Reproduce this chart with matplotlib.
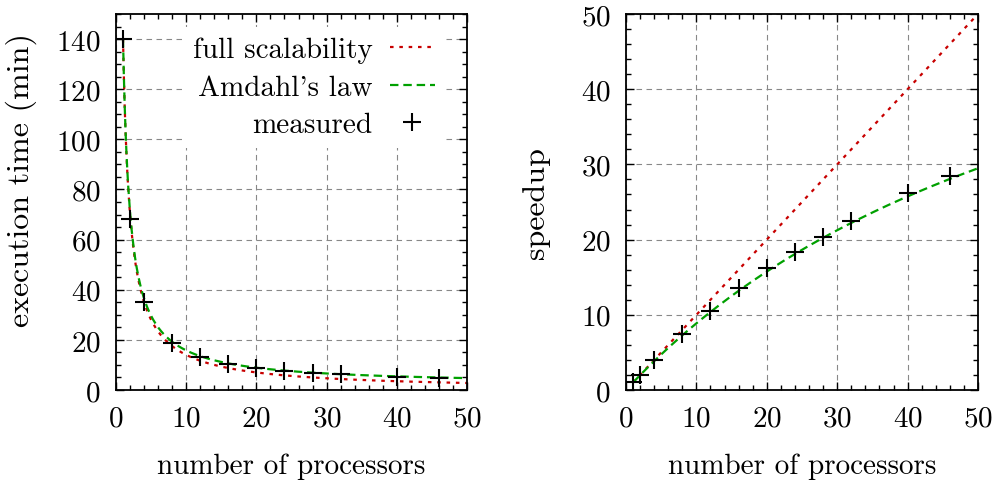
import numpy as np
import matplotlib
matplotlib.use("Agg")
import matplotlib.pyplot as plt
from matplotlib.ticker import MultipleLocator

plt.rcParams["font.family"] = "cmr10"
plt.rcParams["mathtext.fontset"] = "cm"
plt.rcParams["axes.formatter.use_mathtext"] = True

# Measured runs
processors = [1, 2, 4, 8, 12, 16, 20, 24, 28, 32, 40, 46]
exec_time = [140, 68.3, 35, 18.6, 13.1, 10.3, 8.7, 7.6, 6.8, 6.2, 5.35, 4.9]
speedup = [1, 2.0, 4.0, 7.5, 10.5, 13.6, 16.2, 18.3, 20.4, 22.5, 26.2, 28.4]

# Model parameters
serial_time = 140.0        # minutes on one processor
parallel_fraction = 0.9858  # Amdahl's law fit

n = np.linspace(1, 50, 400)
t_full = serial_time / n
t_amdahl = serial_time * ((1 - parallel_fraction) + parallel_fraction / n)
s_full = n
s_amdahl = 1.0 / ((1 - parallel_fraction) + parallel_fraction / n)

RED = "#c80000"
GREEN = "#00a000"
FS = 21
YFS = 23

fig = plt.figure(figsize=(9.98, 4.81), dpi=100)
W, H = 998, 481
ax1 = fig.add_axes([116 / W, 1 - 391 / H, 351 / W, 376 / H])
ax2 = fig.add_axes([626 / W, 1 - 391 / H, 352 / W, 376 / H])

red_style = dict(color=RED, lw=1.6, linestyle=(0, (1.6, 2.6)), dash_capstyle="butt")
green_style = dict(color=GREEN, lw=1.6, linestyle=(0, (3.8, 2.2)))
mark_style = dict(linestyle="none", marker="+", color="black", markersize=13, mew=1.5)

ax1.plot(n, t_full, label="full scalability", **red_style)
ax1.plot(n, t_amdahl, label="Amdahl's law", **green_style)
ax1.plot(processors, exec_time, label="measured", **mark_style)

ax2.plot(n, s_full, **red_style)
ax2.plot(n, s_amdahl, **green_style)
ax2.plot(processors, speedup, **mark_style)

ax1.set_xlim(0, 50)
ax1.set_ylim(0, 150)
ax1.xaxis.set_major_locator(MultipleLocator(10))
ax1.xaxis.set_minor_locator(MultipleLocator(2))
ax1.yaxis.set_major_locator(MultipleLocator(20))
ax1.yaxis.set_minor_locator(MultipleLocator(5))
ax1.set_yticks([0, 20, 40, 60, 80, 100, 120, 140])

ax2.set_xlim(0, 50)
ax2.set_ylim(0, 50)
ax2.xaxis.set_major_locator(MultipleLocator(10))
ax2.xaxis.set_minor_locator(MultipleLocator(2))
ax2.yaxis.set_major_locator(MultipleLocator(10))
ax2.yaxis.set_minor_locator(MultipleLocator(2))

for ax in (ax1, ax2):
    for s in ax.spines.values():
        s.set_linewidth(1.3)
    ax.tick_params(which="both", direction="in", top=True, right=True,
                   labelsize=FS, width=1.0)
    ax.tick_params(which="major", length=6, pad=11)
    ax.tick_params(which="minor", length=3.5)
    ax.grid(True, which="major", color="#888888", lw=0.8, linestyle=(0, (5, 4)))
    ax.set_axisbelow(True)
    ax.set_xlabel("number of processors", fontsize=FS, labelpad=15)

ax1.set_ylabel("execution time (min)", fontsize=YFS)
ax1.yaxis.set_label_coords(-0.225, 0.56)
ax2.set_ylabel("speedup", fontsize=YFS)
ax2.yaxis.set_label_coords(-0.216, 0.5)

leg = ax1.legend(loc="upper right", bbox_to_anchor=(0.963, 0.99), fontsize=FS,
                 markerfirst=False, frameon=True, fancybox=False,
                 handlelength=1.55, handletextpad=0.6, labelspacing=0.38,
                 borderpad=0.35, borderaxespad=0.3)
leg.get_frame().set_facecolor("white")
leg.get_frame().set_edgecolor("none")
leg.get_frame().set_alpha(1)

fig.savefig("out.png", dpi=100)
